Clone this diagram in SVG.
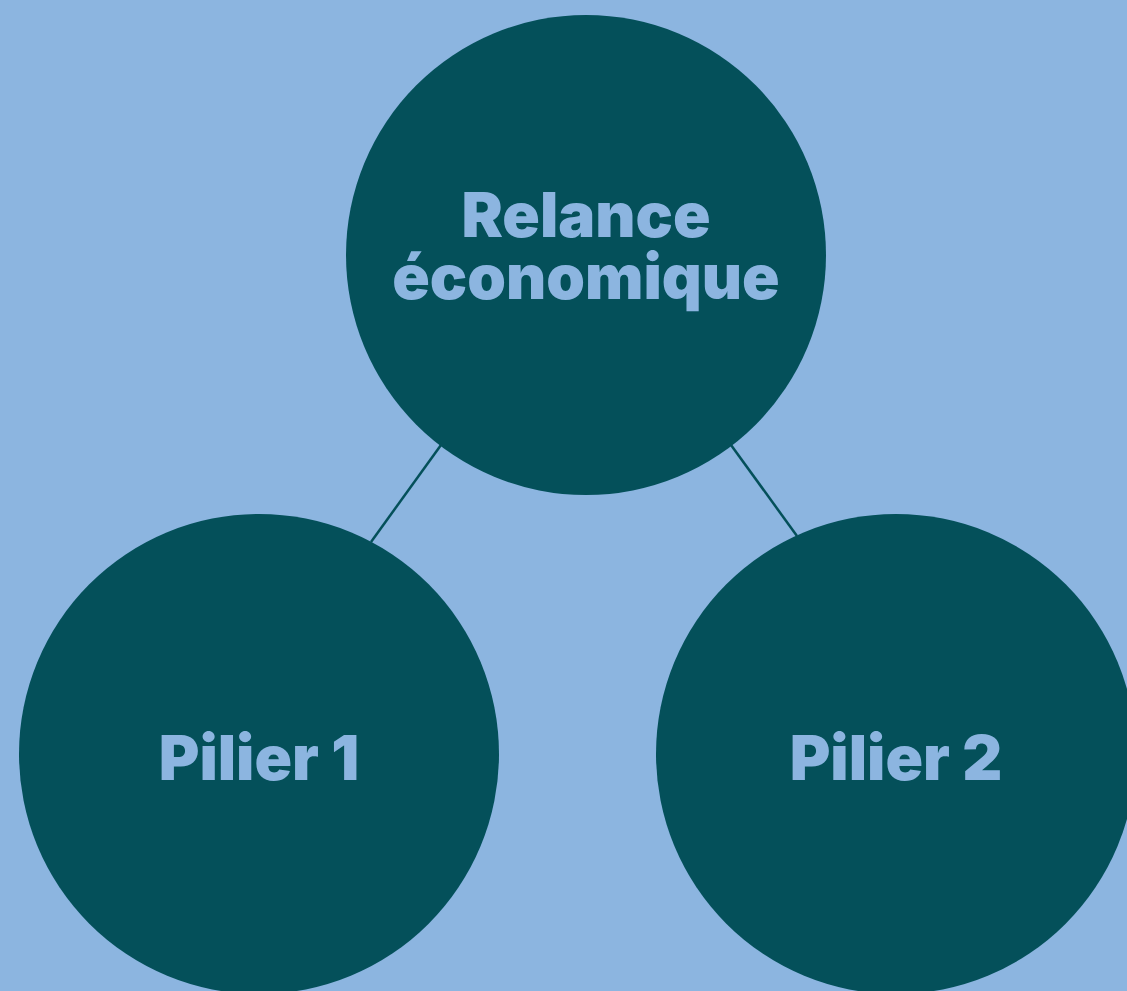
<svg xmlns="http://www.w3.org/2000/svg" width="1127" height="991" viewBox="0 0 1127 991">
<style>
.node{fill:#04505a}
.lbl{fill:#8cb5e0;font-family:Inter,"Roboto","Liberation Sans",sans-serif;font-weight:900;font-size:62px;text-anchor:middle}
.edge{stroke:#04505a;stroke-width:2.5;fill:none}
</style>
<rect width="1127" height="991" fill="#8cb5e0"/>
<g id="connectors">
<line class="edge" x1="441" y1="445" x2="371" y2="542"/>
<line class="edge" x1="731" y1="445" x2="797" y2="536"/>
</g>
<g id="node-relance">
<circle class="node" cx="586" cy="255" r="240"/>
<text class="lbl" x="586" y="237">Relance</text>
<text class="lbl" x="586" y="299">économique</text>
</g>
<g id="node-pilier1">
<circle class="node" cx="259" cy="754" r="240"/>
<text class="lbl" x="259" y="780">Pilier 1</text>
</g>
<g id="node-pilier2">
<circle class="node" cx="896" cy="754" r="240"/>
<text class="lbl" x="896" y="780">Pilier 2</text>
</g>
</svg>
